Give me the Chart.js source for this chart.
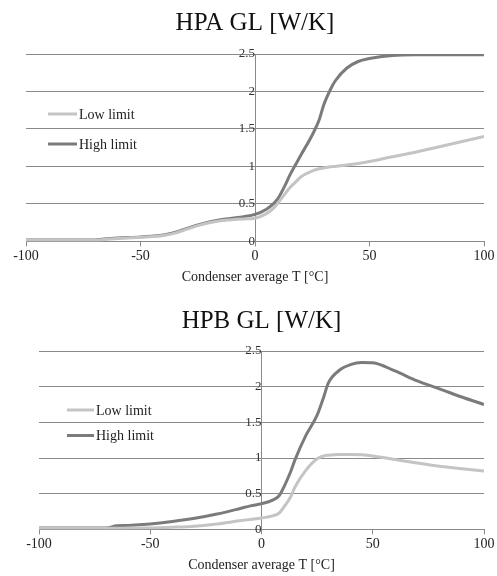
<!DOCTYPE html>
<html><head><meta charset="utf-8">
<script src="https://cdn.jsdelivr.net/npm/chart.js@4.4.1/dist/chart.umd.min.js"></script>
<style>
html,body{margin:0;padding:0;background:#fff;}
#w{position:relative;width:497px;height:576px;}
.c{position:absolute;left:0;width:497px;height:288px;}
</style></head><body>
<div id="w">
<div class="c" style="top:0"><canvas id="a"></canvas></div>
<div class="c" style="top:288px"><canvas id="b"></canvas></div>
</div>
<script>
// ---- data ----
const seriesNames = ['Low limit', 'High limit'];
const titleA = 'HPA GL [W/K]';
const titleB = 'HPB GL [W/K]';
const xAxisTitle = 'Condenser average T [°C]';
const xTicks = [-100, -50, 0, 50, 100];
const xTickLabels = ['-100', '-50', '0', '50', '100'];
const yTicks = [0, 0.5, 1, 1.5, 2, 2.5];
const yTickLabels = ['0', '0.5', '1', '1.5', '2', '2.5'];

const tempA = [-100,-70,-65,-60,-50,-40,-35,-30,-25,-20,-15,-10,-5,0,5,8,10,13,15,18,20,25,28,30,33,35,40,45,50,60,70,80,90,100];
const lowA  = [0.015,0.015,0.03,0.04,0.055,0.08,0.11,0.16,0.21,0.25,0.275,0.29,0.30,0.31,0.37,0.44,0.51,0.63,0.71,0.80,0.86,0.94,0.97,0.98,0.995,1.0,1.02,1.04,1.065,1.13,1.19,1.26,1.33,1.40];
const highA = [0.02,0.02,0.035,0.045,0.06,0.085,0.12,0.17,0.22,0.26,0.29,0.31,0.33,0.36,0.43,0.50,0.57,0.74,0.87,1.04,1.15,1.42,1.62,1.82,2.03,2.14,2.31,2.40,2.44,2.48,2.49,2.49,2.49,2.49];

const tempB = [-100,-70,-65,-60,-50,-40,-30,-20,-10,-5,0,5,8,10,13,15,20,25,28,30,35,40,45,50,60,70,80,90,100];
const lowB  = [0.015,0.015,0.015,0.018,0.02,0.03,0.045,0.075,0.12,0.14,0.16,0.19,0.23,0.31,0.45,0.59,0.83,0.99,1.03,1.04,1.05,1.05,1.045,1.03,0.98,0.93,0.885,0.85,0.82];
const highB = [0.02,0.02,0.05,0.055,0.075,0.11,0.155,0.215,0.29,0.33,0.36,0.41,0.475,0.59,0.80,0.97,1.32,1.60,1.86,2.05,2.23,2.31,2.34,2.335,2.22,2.08,1.97,1.855,1.75];

// ---- rendering ----
const SERIF = '"Liberation Serif", "Times New Roman", serif';
const colors = ['#c4c4c4', '#7b7b7b'];

const insideLegend = {
  id: 'insideLegend',
  afterDraw(chart, args, opts) {
    const ctx = chart.ctx;
    ctx.save();
    chart.data.datasets.forEach((ds, i) => {
      const y = opts.y + i * opts.gap;
      ctx.strokeStyle = ds.borderColor;
      ctx.lineWidth = 3;
      ctx.beginPath();
      ctx.moveTo(opts.x, y);
      ctx.lineTo(opts.x + opts.len, y);
      ctx.stroke();
      ctx.fillStyle = '#222';
      ctx.font = '14px ' + SERIF;
      ctx.textBaseline = 'middle';
      ctx.textAlign = 'left';
      ctx.fillText(ds.label, opts.x + opts.len + 2, y + 1);
    });
    ctx.restore();
  }
};

function pts(xs, ys) { return xs.map((x, i) => ({ x: x, y: ys[i] })); }

function makeChart(id, title, temps, low, high, lay) {
  return new Chart(document.getElementById(id), {
    type: 'line',
    data: {
      datasets: [
        { label: seriesNames[0], data: pts(temps, low), borderColor: colors[0], backgroundColor: colors[0], borderWidth: 3, pointRadius: 0, cubicInterpolationMode: 'monotone' },
        { label: seriesNames[1], data: pts(temps, high), borderColor: colors[1], backgroundColor: colors[1], borderWidth: 3, pointRadius: 0, cubicInterpolationMode: 'monotone' }
      ]
    },
    options: {
      responsive: true,
      maintainAspectRatio: false,
      animation: false,
      layout: { padding: lay.padding },
      plugins: {
        legend: { display: false },
        tooltip: { enabled: false },
        title: {
          display: true, text: title, color: '#111',
          font: { family: SERIF, size: 25, weight: 'normal' },
          padding: lay.titlePad
        },
        insideLegend: lay.legend
      },
      scales: {
        x: {
          type: 'linear', min: -100, max: 100,
          afterBuildTicks: (s) => { s.ticks = xTicks.map(v => ({ value: v })); },
          grid: { drawOnChartArea: false, color: '#8a8a8a', tickLength: 5 },
          border: { color: '#8a8a8a' },
          ticks: { color: '#222', font: { family: SERIF, size: 14 }, padding: 2, maxRotation: 0,
                   callback: (v) => xTickLabels[xTicks.indexOf(v)] },
          title: { display: true, text: xAxisTitle, color: '#222', font: { family: SERIF, size: 14 }, padding: { top: 2, bottom: 0 } }
        },
        y: {
          type: 'linear', min: 0, max: 2.5,
          position: { x: 0 },
          afterBuildTicks: (s) => { s.ticks = yTicks.map(v => ({ value: v })); },
          grid: { color: '#8a8a8a', drawTicks: false },
          border: { color: '#8a8a8a' },
          ticks: { color: '#333', font: { family: SERIF, size: 13 }, padding: 4,
                   callback: (v) => yTickLabels[yTicks.indexOf(v)] }
        }
      }
    },
    plugins: [insideLegend]
  });
}

makeChart('a', titleA, tempA, lowA, highA, {
  padding: { left: 26, right: 13, top: 0, bottom: 2 },
  titlePad: { top: 8, bottom: 16 },
  legend: { x: 48, y: 114, gap: 30, len: 29 }
});
makeChart('b', titleB, tempB, lowB, highB, {
  padding: { left: 39, right: 13, top: 0, bottom: 2 },
  titlePad: { top: 18, bottom: 15 },
  legend: { x: 67, y: 122, gap: 25.5, len: 27 }
});
</script>
</body></html>
